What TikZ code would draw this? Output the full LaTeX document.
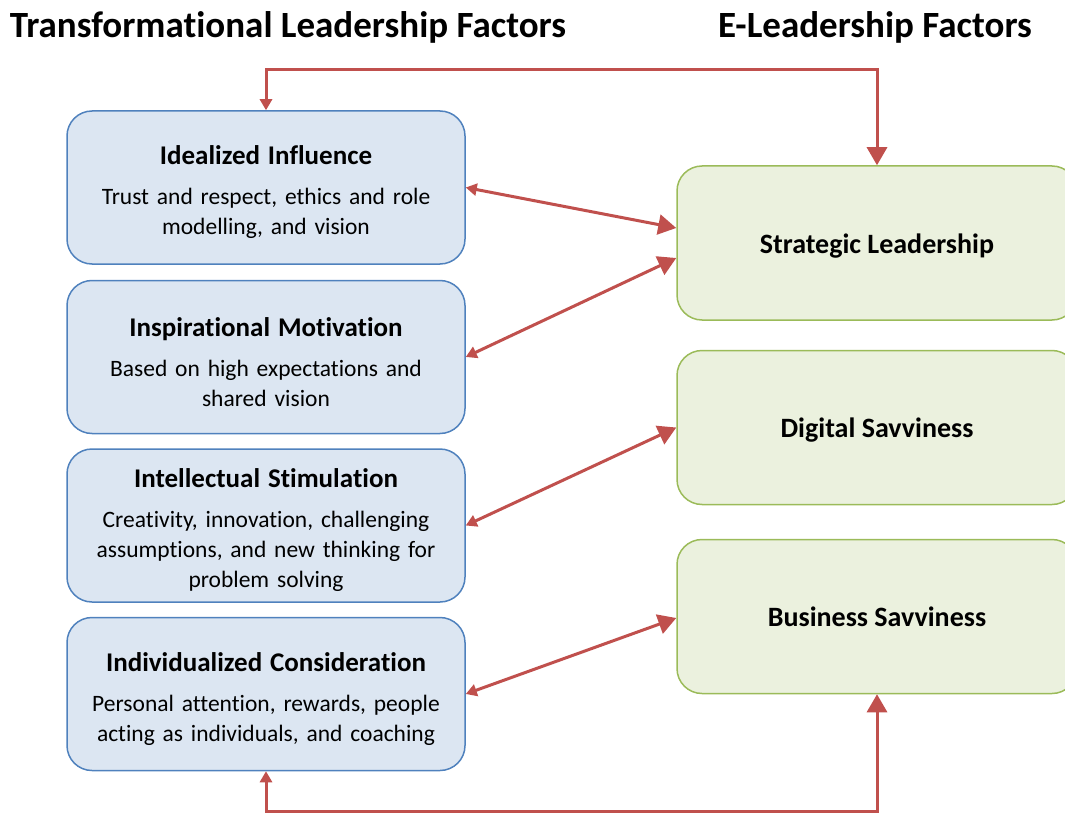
\documentclass[tikz,border=0pt]{standalone}
\usepackage{fontspec}
\setmainfont[Ligatures=NoCommon]{Carlito}
\usetikzlibrary{arrows.meta}
\definecolor{lblue}{HTML}{DCE6F2}
\definecolor{dblue}{HTML}{4F81BD}
\definecolor{lgreen}{HTML}{EBF1DE}
\definecolor{dgreen}{HTML}{9BBB59}
\definecolor{conred}{HTML}{C0504D}
\newcommand{\hd}[1]{{\fontsize{27}{30}\selectfont\bfseries #1}}
\begin{document}
\begin{tikzpicture}[x=1pt,y=-1pt,
  tbox/.style={draw=dblue,fill=lblue,line width=1.5pt,rounded corners=25pt,
    minimum width=398pt,minimum height=153pt,align=center,text width=390pt,
    inner sep=0pt,text height=29pt,font=\fontsize{23.5}{30}\selectfont},
  ebox/.style={draw=dgreen,fill=lgreen,line width=1.5pt,rounded corners=25pt,
    minimum width=400pt,minimum height=154pt,align=center,inner sep=0pt,
    text height=26pt,text depth=6pt,
    font=\fontsize{28}{30}\selectfont\bfseries},
  ttl/.style={font=\fontsize{37}{40}\selectfont\bfseries,inner sep=0pt},
  con/.style={draw=conred,line width=3pt},
  bigtip/.tip={Triangle[length=18pt,width=20pt]},
  smalltip/.tip={Triangle[length=11pt,width=12pt]},
]
\useasboundingbox (0,0) rectangle (1065,813);
\node[ttl] (t1) at (288,27) {Transformational Leadership Factors};
\node[ttl] (t2) at (875,27) {E-Leadership Factors};

\node[tbox] (b1) at (266,187.5) {\hd{Idealized Influence}\\[10pt]Trust and respect, ethics and role\\modelling, and vision};
\node[tbox] (b2) at (266,357) {\hd{Inspirational Motivation}\\[10pt]Based on high expectations and\\shared vision};
\node[tbox] (b3) at (266,525.5) {\hd{Intellectual Stimulation}\\[10pt]Creativity, innovation, challenging\\assumptions, and new thinking for\\problem solving};
\node[tbox] (b4) at (266,694) {\hd{Individualized Consideration}\\[10pt]Personal attention, rewards, people\\acting as individuals, and coaching};

\node[ebox] (sl) at (877,243) {Strategic Leadership};
\node[ebox] (ds) at (877,427.5) {Digital Savviness};
\node[ebox] (bs) at (877,616.5) {Business Savviness};

\coordinate (tl) at (266,70);
\coordinate (tr) at (877,70);
\coordinate (bl) at (266,811);
\coordinate (br) at (877,811);

\draw[con,smalltip-bigtip] (b1.north) -- (tl) -- (tr) -- (sl.north);
\draw[con,smalltip-bigtip] (b4.south) -- (bl) -- (br) -- (bs.south);
\draw[con,smalltip-bigtip] (b1.east) -- ([yshift=15pt]sl.west);
\draw[con,smalltip-bigtip] (b2.east) -- ([yshift=-15pt]sl.west);
\draw[con,smalltip-bigtip] (b3.east) -- (ds.west);
\draw[con,smalltip-bigtip] (b4.east) -- ([yshift=-1.5pt]bs.west);
\end{tikzpicture}
\end{document}
